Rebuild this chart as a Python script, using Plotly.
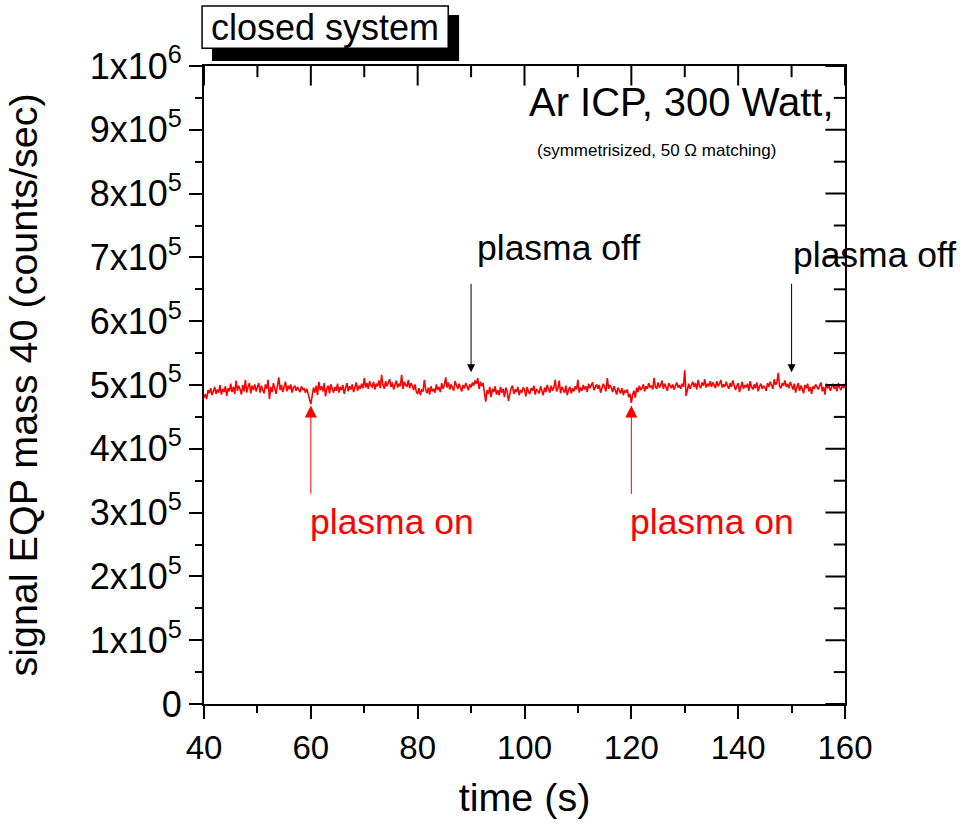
import plotly.graph_objects as go

# signal in units of 1000 counts/sec, sampled every 0.25 s from t = 40 s to 160 s
signal_k = [
    480, 486, 478, 492, 487, 495, 484, 490, 497, 486, 493, 488, 500, 485, 494, 489, 498, 483, 495, 490,
    502, 489, 497, 486, 507, 491, 499, 493, 485, 500, 490, 508, 488, 497, 503, 487, 499, 492, 501, 490,
    496, 503, 488, 499, 492, 487, 501, 494, 508, 478, 497, 489, 503, 495, 486, 499, 512, 492, 500, 489,
    497, 505, 490, 499, 493, 501, 488, 496, 499, 491, 497, 493, 489, 498, 492, 495, 488, 494, 486, 476,
    470, 483, 496, 488, 499, 484, 505, 492, 498, 490, 503, 482, 494, 499, 487, 501, 493, 488, 497, 491,
    502, 488, 497, 492, 500, 486, 495, 503, 490, 498, 493, 501, 489, 496, 504, 491, 499, 494, 502, 495,
    511, 496, 503, 494, 506, 499, 497, 505, 493, 502, 498, 507, 495, 516, 500, 494, 506, 498, 503, 509,
    497, 504, 493, 500, 507, 496, 502, 498, 516, 494, 505, 500, 497, 508, 495, 503, 499, 492, 501, 489,
    486, 495, 484, 492, 490, 508, 493, 487, 496, 485, 498, 490, 494, 488, 501, 492, 497, 489, 503, 494,
    500, 512, 496, 504, 493, 501, 497, 491, 506, 499, 494, 502, 496, 490, 500, 495, 503, 497, 492, 501,
    496, 504, 499, 507, 502, 511, 494, 505, 498, 503, 488, 474, 492, 486, 497, 481, 494, 489, 498, 485,
    492, 484, 497, 488, 494, 481, 496, 490, 475, 488, 495, 499, 486, 493, 489, 497, 484, 492, 488, 496,
    493, 482, 497, 489, 486, 495, 491, 499, 485, 494, 490, 487, 498, 492, 484, 496, 489, 500, 493, 488,
    499, 491, 496, 508, 490, 495, 507, 487, 497, 493, 488, 499, 484, 492, 497, 487, 495, 490, 498, 493,
    508, 488, 496, 491, 500, 493, 498, 489, 502, 495, 499, 504, 492, 497, 501, 494, 500, 488, 496, 502,
    497, 490, 511, 494, 500, 496, 489, 498, 492, 485, 496, 491, 487, 495, 484, 492, 488, 493, 481, 486,
    472, 485, 491, 480, 496, 489, 499, 492, 495, 501, 490, 498, 494, 503, 496, 499, 493, 511, 497, 494,
    504, 496, 500, 507, 494, 502, 497, 491, 503, 498, 495, 501, 493, 499, 504, 496, 500, 494, 502, 497,
    523, 483, 496, 502, 494, 499, 505, 497, 503, 493, 508, 498, 495, 504, 499, 509, 496, 502, 498, 506,
    497, 504, 500, 495, 506, 498, 502, 508, 496, 501, 497, 505, 499, 494, 503, 497, 507, 500, 492, 498,
    503, 489, 498, 505, 494, 500, 496, 502, 491, 506, 497, 493, 501, 495, 504, 490, 498, 502, 494, 499,
    496, 491, 503, 497, 505, 499, 494, 509, 500, 504, 519, 498, 495, 503, 499, 507, 497, 502, 495, 505,
    499, 493, 502, 488, 497, 503, 491, 499, 494, 487, 500, 495, 502, 490, 497, 486, 498, 494, 501, 496,
    493, 499, 504, 490, 497, 485, 502, 495, 499, 491, 497, 502, 494, 499, 490, 503, 496, 492, 500, 495,
    502,
]
signal = [v * 1000 for v in signal_k]
time_s = [40 + 0.25 * i for i in range(len(signal))]

y_tickvals = [0, 1e5, 2e5, 3e5, 4e5, 5e5, 6e5, 7e5, 8e5, 9e5, 1e6]
y_minorvals = [5e4, 1.5e5, 2.5e5, 3.5e5, 4.5e5, 5.5e5, 6.5e5, 7.5e5, 8.5e5, 9.5e5]
y_ticktext = ["0"] + [f"{m}x10<sup>5</sup>" for m in range(1, 10)] + ["1x10<sup>6</sup>"]
x_tickvals = [40, 60, 80, 100, 120, 140, 160]
x_minorvals = [50, 70, 90, 110, 130, 150]

off_times = [90, 150]
on_times = [60, 120]

X_RANGE = [40, 160]
Y_RANGE = [0, 1e6]

FONT = "Liberation Sans, Arial, sans-serif"

fig = go.Figure()
fig.add_trace(go.Scatter(x=time_s, y=signal, mode="lines",
                         line=dict(color="#ff0000", width=1.6),
                         showlegend=False, hoverinfo="skip"))

# inward mirror ticks on the top and right edges: line markers centred on the edge,
# clipped by the plot area so only the inner half shows
for vals, size in [(x_tickvals, 28), (x_minorvals, 16)]:
    fig.add_trace(go.Scatter(x=vals, y=[Y_RANGE[1]] * len(vals), mode="markers",
                             marker=dict(symbol="line-ns", size=size,
                                         line=dict(color="black", width=2)),
                             cliponaxis=True, showlegend=False, hoverinfo="skip"))
for vals, size in [(y_tickvals, 28), (y_minorvals, 16)]:
    fig.add_trace(go.Scatter(x=[X_RANGE[1]] * len(vals), y=vals, mode="markers",
                             marker=dict(symbol="line-ew", size=size,
                                         line=dict(color="black", width=2)),
                             cliponaxis=True, showlegend=False, hoverinfo="skip"))

axis_common = dict(showgrid=False, zeroline=False, linecolor="black", linewidth=2,
                   tickcolor="black", tickwidth=2)

fig.update_layout(
    width=963, height=828,
    margin=dict(l=204, r=118, t=66, b=124),
    paper_bgcolor="white", plot_bgcolor="white",
    font=dict(family=FONT, color="black", size=33),
    xaxis=dict(range=X_RANGE, tickvals=x_tickvals,
               ticks="outside", ticklen=13, showline=True, mirror=True,
               minor=dict(ticks="outside", dtick=10, tick0=40, ticklen=7,
                          tickcolor="black", tickwidth=2),
               tickfont=dict(size=33),
               title=dict(text="time (s)", font=dict(size=39.5), standoff=19),
               **axis_common),
    yaxis=dict(range=Y_RANGE, tickvals=y_tickvals,
               ticktext=y_ticktext, ticks="outside", ticklen=13, showline=True, mirror=True,
               minor=dict(ticks="outside", dtick=5e4, tick0=0, ticklen=7,
                          tickcolor="black", tickwidth=2),
               tickfont=dict(size=36),
               title=dict(text="signal EQP mass 40 (counts/sec)", font=dict(size=39.5), standoff=40),
               **axis_common),
)

shapes = [
    # "closed system" label: black drop shadow, then white framed box
    dict(type="rect", xref="paper", yref="paper", x0=0.0125, x1=0.398, y0=1.008, y1=1.080,
         fillcolor="black", line=dict(width=0), layer="above"),
    dict(type="rect", xref="paper", yref="paper", x0=-0.003, x1=0.381, y0=1.028, y1=1.094,
         fillcolor="white", line=dict(color="black", width=1.5), layer="above"),
]
fig.update_layout(shapes=shapes)

annotations = []
# black "plasma off" arrows
for t in off_times:
    annotations.append(dict(x=t, y=520000, ax=t, ay=661000, xref="x", yref="y",
                            axref="x", ayref="y", showarrow=True, arrowhead=2,
                            arrowsize=1.6, arrowwidth=1, arrowcolor="black", text=""))
annotations.append(dict(x=90.8, y=714000, xref="x", yref="y", text="plasma off",
                        showarrow=False, xanchor="left", yanchor="middle",
                        font=dict(size=35.5, color="black")))
annotations.append(dict(x=149.8, y=703000, xref="x", yref="y", text="plasma off",
                        showarrow=False, xanchor="left", yanchor="middle",
                        font=dict(size=35.5, color="black")))
# red "plasma on" arrows
for t in on_times:
    annotations.append(dict(x=t, y=468000, ax=t, ay=327000, xref="x", yref="y",
                            axref="x", ayref="y", showarrow=True, arrowhead=2,
                            arrowsize=2.4, arrowwidth=1, arrowcolor="#ff0000", text=""))
    annotations.append(dict(x=t - 0.6, y=285000, xref="x", yref="y", text="plasma on",
                            showarrow=False, xanchor="left", yanchor="middle",
                            font=dict(size=35.5, color="#ff0000")))
annotations.append(dict(x=158.3, y=943000, xref="x", yref="y", text="Ar ICP, 300 Watt,",
                        showarrow=False, xanchor="right", yanchor="middle",
                        font=dict(size=40)))
annotations.append(dict(x=102, y=868000, xref="x", yref="y",
                        text="(symmetrisized, 50 \u03a9 matching)",
                        showarrow=False, xanchor="left", yanchor="middle",
                        font=dict(size=17)))
annotations.append(dict(x=0.189, y=1.061, xref="paper", yref="paper", text="closed system",
                        showarrow=False, xanchor="center", yanchor="middle",
                        font=dict(size=36)))
fig.update_layout(annotations=annotations)

fig.write_html("out.html")
